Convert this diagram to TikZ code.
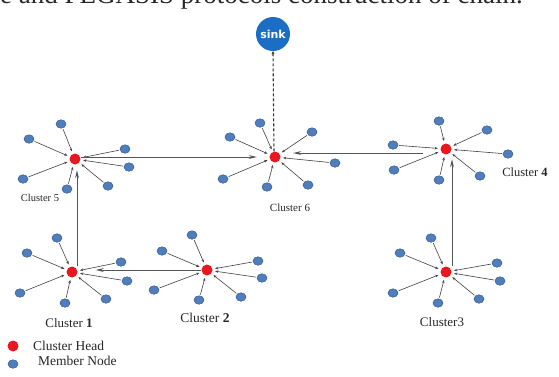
\documentclass[tikz,border=0pt]{standalone}
\usepackage{fontspec}
\setmainfont{Liberation Serif}
\newfontfamily\sinkfont{DejaVu Sans}
\usetikzlibrary{arrows.meta,shapes.geometric}

\definecolor{headred}{RGB}{232,24,30}
\definecolor{memblue}{RGB}{80,126,188}
\definecolor{memedge}{RGB}{56,92,146}
\definecolor{sinkblue}{RGB}{28,110,196}
\definecolor{linkgray}{RGB}{85,85,85}
\definecolor{spokegray}{RGB}{65,65,65}

\tikzset{
  head/.style={circle, fill=headred, inner sep=0pt, minimum size=11pt},
  member/.style={ellipse, fill=memblue, draw=memedge, line width=0.5pt,
    inner sep=0pt, minimum width=10pt, minimum height=8.5pt},
  spoke/.style={draw=spokegray, line width=0.6pt,
    -{Stealth[length=3.2pt,width=2.6pt]}, shorten >=2.5pt, shorten <=1pt},
  link/.style={draw=linkgray, line width=0.75pt,
    -{Stealth[length=8pt,width=3.8pt]}},
  uplink/.style={draw=black!80, line width=1.1pt, dashed,
    dash pattern=on 3pt off 2pt, -{Stealth[length=3pt,width=3pt]}},
  clabel/.style={inner sep=0pt, text=black!85},
  legend/.style={inner sep=0pt, anchor=west, text=black!85,
    font=\fontsize{13.5}{15}\selectfont},
}

\begin{document}
\begin{tikzpicture}[x=1pt,y=-1pt]
  \useasboundingbox (0,0) rectangle (559,376);
  \clip (0,0) rectangle (559,376);

  % running title line of the page, cut at the top edge
  \node[anchor=base west, inner sep=0pt, text=black!85,
        font=\fontsize{27}{30}\selectfont] (title) at (0,3.5)
        {e and PEGASIS protocols construction of chain.};

  % sink
  \node[circle, fill=sinkblue, inner sep=0pt, minimum size=34pt,
        text=white, font=\sinkfont\bfseries\fontsize{11}{12}\selectfont]
        (sink) at (273,34) {sink};

  % cluster heads
  \node[head] (h1) at (72,272) {};
  \node[head] (h2) at (207,270) {};
  \node[head] (h3) at (446,272) {};
  \node[head] (h4) at (446,149) {};
  \node[head] (h5) at (75,159) {};
  \node[head] (h6) at (275,157) {};

  % member nodes with their arrows to the head
  \foreach \n/\x/\y in {1/57/238, 2/27/253, 3/121/262, 4/127/281,
                        5/106/299, 6/65/303, 7/20/293}{
    \node[member] (m1-\n) at (\x,\y) {};
    \draw[spoke] (m1-\n) -- (h1);
  }
  \foreach \n/\x/\y in {1/192/235, 2/162/251, 3/258/261, 4/262/278,
                        5/241/297, 6/199/300, 7/154/290}{
    \node[member] (m2-\n) at (\x,\y) {};
    \draw[spoke] (m2-\n) -- (h2);
  }
  \foreach \n/\x/\y in {1/431/238, 2/400/253, 3/497/263, 4/500/281,
                        5/479/299, 6/438/303, 7/393/293}{
    \node[member] (m3-\n) at (\x,\y) {};
    \draw[spoke] (m3-\n) -- (h3);
  }
  \foreach \n/\x/\y in {1/439/121, 2/393/145, 3/487/130, 4/508/154,
                        5/480/176, 6/439/180, 7/394/170}{
    \node[member] (m4-\n) at (\x,\y) {};
    \draw[spoke] (m4-\n) -- (h4);
  }
  \foreach \n/\x/\y in {1/61/124, 2/29/139, 3/125/149, 4/129/167,
                        5/108/186, 6/67/189, 7/23/179}{
    \node[member] (m5-\n) at (\x,\y) {};
    \draw[spoke] (m5-\n) -- (h5);
  }
  \foreach \n/\x/\y in {1/260/123, 2/230/137, 3/312/132, 4/335/163,
                        5/308/185, 6/267/187, 7/223/179}{
    \node[member] (m6-\n) at (\x,\y) {};
    \draw[spoke] (m6-\n) -- (h6);
  }

  % links between cluster heads
  \draw[link] (h2.west) -- ([xshift=18pt,yshift=2pt]h1.east);
  \draw[link] ([xshift=5pt]h1.north) -- ([xshift=2pt,yshift=-5.5pt]h5.south);
  \draw[link] ([yshift=2pt]h5.east) -- ([xshift=-12.5pt]h6.west);
  \draw[link] ([xshift=-17pt,yshift=-4pt]h4.west) -- ([xshift=12.5pt,yshift=4pt]h6.east);
  \draw[link] ([xshift=6pt]h3.north) -- ([xshift=6pt,yshift=-4.5pt]h4.south);
  \draw[uplink] ([xshift=-1pt]h6.north) -- (sink.south);

  % cluster names
  \node[clabel, font=\fontsize{13}{15}\selectfont] (l1) at (69,323) {Cluster \textbf{1}};
  \node[clabel, font=\fontsize{13.5}{15}\selectfont] (l2) at (205,318) {Cluster \textbf{2}};
  \node[clabel, font=\fontsize{13}{15}\selectfont] (l3) at (442,322) {Cluster3};
  \node[clabel, font=\fontsize{12.5}{15}\selectfont] (l4) at (525,172) {Cluster \textbf{4}};
  \node[clabel, font=\fontsize{10.5}{12}\selectfont] (l5) at (40,198) {Cluster 5};
  \node[clabel, font=\fontsize{11}{13}\selectfont] (l6) at (290,208) {Cluster 6};

  % legend
  \node[head] (keyhead) at (13,346) {};
  \node[legend] (keyheadtext) at (33,346) {Cluster Head};
  \node[member] (keymember) at (13,364) {};
  \node[legend] (keymembertext) at (38,361) {Member Node};
\end{tikzpicture}
\end{document}
